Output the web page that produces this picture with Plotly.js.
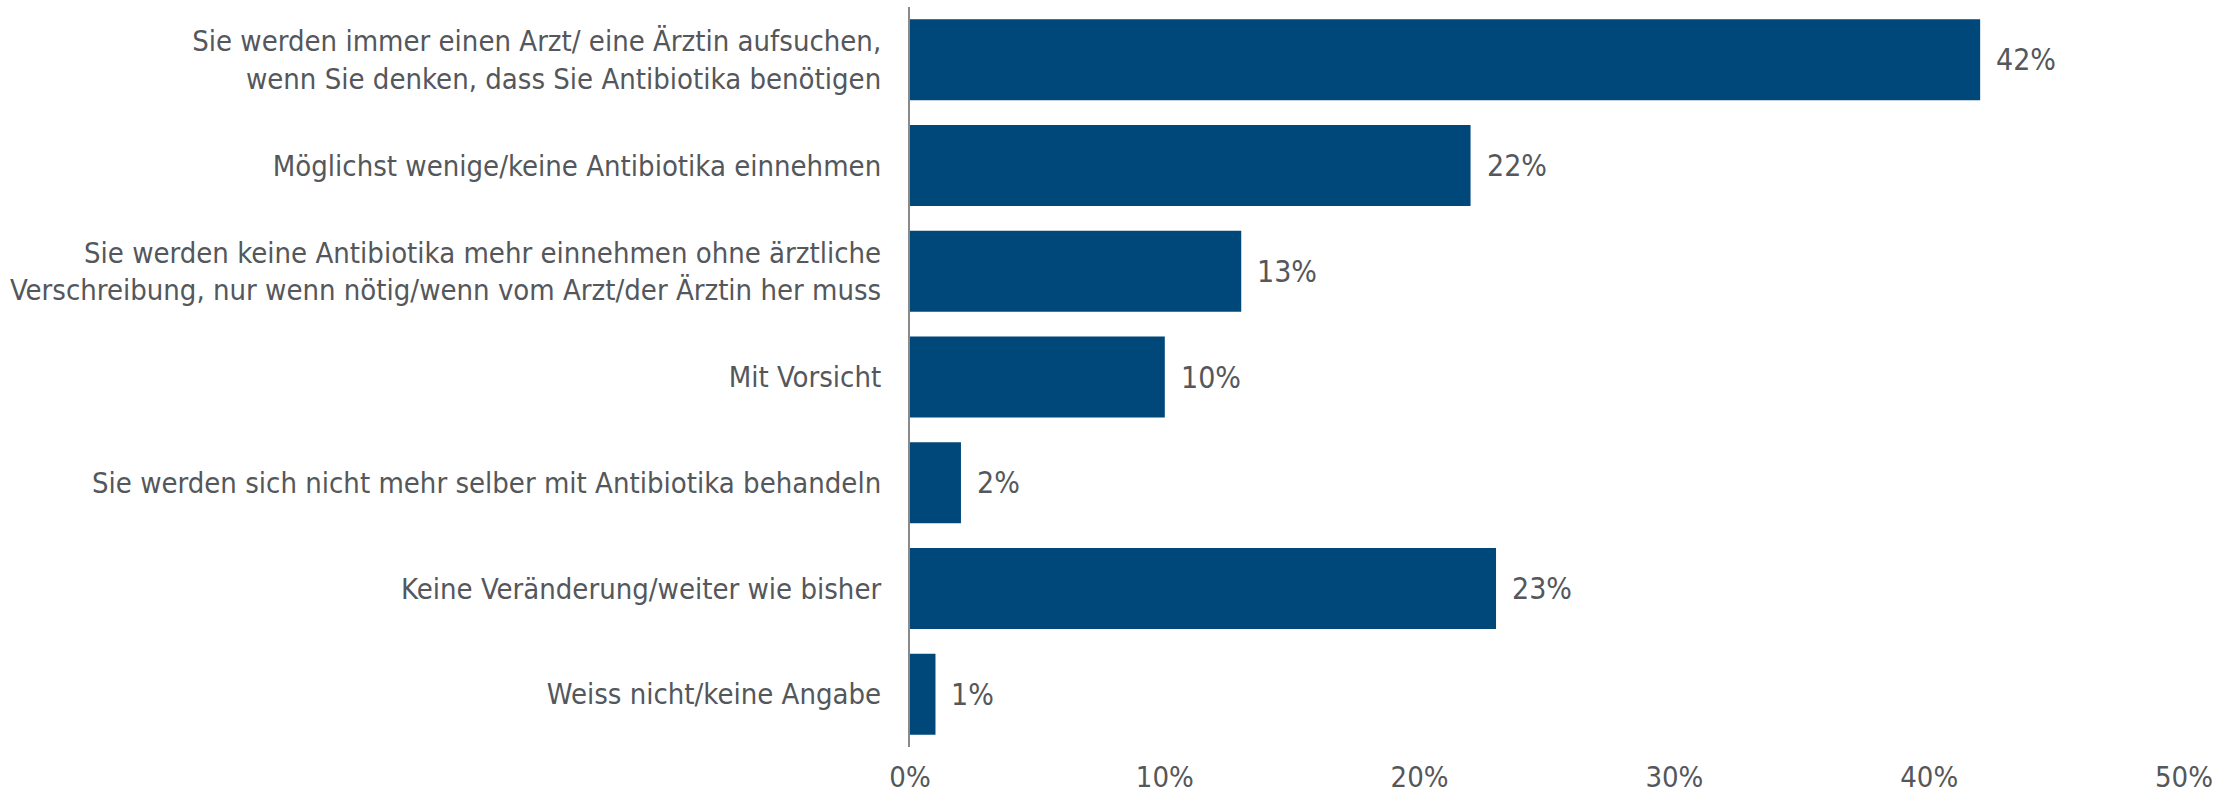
<!DOCTYPE html>
<html>
<head>
<meta charset="utf-8">
<script src="https://cdn.plot.ly/plotly-3.0.1.min.js"></script>
<style>html,body{margin:0;padding:0;background:#fff;}#chart{width:2240px;height:796px;}</style>
</head>
<body>
<div id="chart"></div>
<script>
const categories = [
  "Sie werden immer einen Arzt/ eine Ärztin aufsuchen,<br>wenn Sie denken, dass Sie Antibiotika benötigen",
  "Möglichst wenige/keine Antibiotika einnehmen",
  "Sie werden keine Antibiotika mehr einnehmen ohne ärztliche<br>Verschreibung, nur wenn nötig/wenn vom Arzt/der Ärztin her muss",
  "Mit Vorsicht",
  "Sie werden sich nicht mehr selber mit Antibiotika behandeln",
  "Keine Veränderung/weiter wie bisher",
  "Weiss nicht/keine Angabe"
];
const values = [42, 22, 13, 10, 2, 23, 1];
const xTickVals = [0, 10, 20, 30, 40, 50];
const xTickText = ["0%", "10%", "20%", "30%", "40%", "50%"];

const FONT = "DejaVu Sans Condensed, Liberation Sans, sans-serif";
const TXT = "#54575b";

const trace = {
  type: "bar",
  orientation: "h",
  x: values,
  y: categories,
  marker: {color: "#00477a"},
  hoverinfo: "skip"
};

const annotations = values.map((v, i) => ({
  x: v, y: categories[i], xref: "x", yref: "y",
  text: v + "%", showarrow: false, xanchor: "left", yanchor: "middle",
  xshift: 14, font: {family: FONT, size: 30, color: TXT}
}));

const layout = {
  width: 2240, height: 796,
  margin: {l: 910, r: 56, t: 7, b: 49},
  paper_bgcolor: "#fff", plot_bgcolor: "#fff",
  bargap: 0.234,
  showlegend: false,
  font: {family: FONT, size: 29, color: TXT},
  xaxis: {
    range: [0, 50], tickvals: xTickVals, ticktext: xTickText,
    showgrid: false, zeroline: false, showline: false,
    ticks: "", ticklabelstandoff: 10,
    tickfont: {family: FONT, size: 29, color: TXT}, fixedrange: true
  },
  yaxis: {
    type: "category", categoryorder: "array", categoryarray: categories,
    autorange: "reversed",
    showgrid: false, zeroline: false, showline: true, linecolor: "#8a8a8a", linewidth: 2,
    ticks: "", ticklabelstandoff: 21,
    tickfont: {family: FONT, size: 29, color: TXT}, fixedrange: true
  },
  annotations: annotations
};

Plotly.newPlot("chart", [trace], layout, {staticPlot: true, displayModeBar: false});
</script>
</body>
</html>
